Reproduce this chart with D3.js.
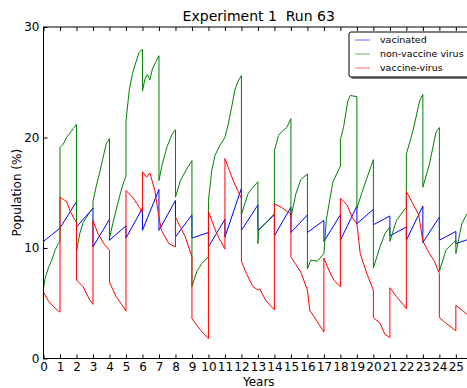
<html>
<head>
  <script src="https://d3js.org/d3.v7.min.js"></script>
  <style>
    body { margin: 0; background: #fff; }
    svg text { font-family: 'DejaVu Sans', sans-serif; fill: #000; }
    .axis .domain { stroke: none; }
    .axis text { font-size: 12px; }
    .axis line { stroke: #000; }
  </style>
</head>
<body>
<svg id="chart" width="467" height="388"></svg>
<script>
// [year, percent]; jumps happen at whole years
const vaccinated = [
  [0,10.6],[0.5,11.2],[1,11.8],[1.5,13.0],[2,14.2],[2,11.9],[3,13.6],[3,10.1],[4,12.6],[4,10.7],
  [5,12.0],[5,10.9],[6,13.6],[6,11.6],[7,15.3],[7,11.6],[8,14.3],[8,11.0],[9,13.0],[9,10.9],
  [10,11.4],[10,10.1],[11,12.6],[11,11.0],[12,15.4],[12,11.6],[13,13.9],[13,11.6],[14,13.0],[14,11.1],
  [15,13.7],[15,11.4],[16,13.0],[16,11.4],[17,12.5],[17,10.6],[18,13.0],[18,10.7],[19,13.8],[19,12.2],
  [20,13.5],[20,12.1],[21,12.9],[21,11.1],[22,11.9],[22,10.7],[23,13.8],[23,10.5],[24,12.8],[24,10.7],
  [25,11.5],[25,10.4],[26,10.9]
];

const nonVaccineVirus = [
  [0,6.3],[0.1,7.3],[0.3,8.2],[0.5,8.9],[0.7,9.8],[0.9,10.4],[1,10.6],[1,19.1],[1.2,19.4],[1.4,20.0],
  [1.6,20.4],[1.8,20.8],[2,21.2],[2,9.7],[2.2,11.3],[2.4,12.3],[2.7,13.0],[3,13.6],[3,14.2],[3.2,15.6],
  [3.4,16.8],[3.6,18.1],[3.8,19.4],[4,19.9],[4,10.9],[4.2,12.2],[4.4,13.4],[4.6,14.6],[4.8,15.7],[5,16.5],
  [5,21.5],[5.2,24.3],[5.4,25.8],[5.6,26.8],[5.8,27.7],[6,28.0],[6,24.2],[6.15,25.3],[6.3,25.7],[6.45,25.2],
  [6.6,26.2],[6.8,26.8],[7,27.4],[7,16.1],[7.2,17.6],[7.5,19.2],[7.8,20.3],[8,20.7],[8,14.6],[8.3,16.1],
  [8.7,17.2],[9,17.9],[9,6.5],[9.3,7.9],[9.6,8.6],[10,9.2],[10,14.3],[10.2,17.0],[10.4,18.4],[10.7,19.3],
  [11,20.0],[11.2,21.2],[11.4,22.7],[11.6,24.3],[11.8,25.1],[12,25.6],[12,13.0],[12.2,14.0],[12.4,14.9],[12.7,15.5],
  [13,16.0],[13,10.4],[13.05,11.6],[13.5,12.3],[14,13.1],[14,18.8],[14.25,20.2],[14.5,20.6],[14.75,20.9],[15,21.7],
  [15,12.8],[15.3,14.9],[15.6,16.2],[16,16.7],[16,8.1],[16.2,8.9],[16.6,8.8],[17,9.5],[17.15,12.6],[17.55,16.0],
  [18,17.4],[18,19.8],[18.2,21.0],[18.45,23.3],[18.6,23.8],[19,23.7],[19,13.6],[19.3,15.0],[19.6,16.3],[20,18.0],
  [20,8.2],[20.4,10.1],[20.7,11.3],[21,11.9],[21,10.6],[21.4,12.5],[21.8,13.3],[22,13.7],[22,18.5],[22.4,20.6],
  [22.8,23.3],[23,23.9],[23,15.5],[23.4,17.6],[23.8,20.5],[24,20.9],[24,7.9],[24.4,9.8],[25,10.7],[25,9.5],
  [25.36,12.2],[25.68,13.1],[26,14.0]
];

const vaccineVirus = [
  [0,6.0],[0.3,5.2],[0.6,4.7],[0.9,4.3],[1,4.2],[1,14.6],[1.2,14.4],[1.4,14.2],[1.6,13.4],[1.8,12.8],
  [2,12.3],[2,7.1],[2.4,6.5],[2.8,5.3],[3,4.9],[3,12.5],[3.3,11.3],[3.7,10.3],[4,9.8],[4,6.9],
  [4.4,5.6],[4.7,5.0],[5,4.3],[5,15.2],[5.4,14.6],[5.8,13.7],[6,13.2],[6,16.9],[6.25,16.4],[6.45,16.8],
  [6.75,15.2],[7,12.8],[7.15,11.6],[7.6,10.4],[8,10.1],[8,12.8],[8.3,11.9],[8.6,11.0],[9,9.2],[9,3.6],
  [9.5,2.6],[10,1.8],[10,13.3],[10.2,12.5],[10.5,11.3],[11,9.9],[11,18.1],[11.2,17.3],[11.5,16.1],[11.9,14.8],
  [12,14.5],[12,8.8],[12.3,7.7],[12.7,6.5],[13,6.2],[13.1,6.3],[13.5,5.2],[14,4.4],[14,14.0],[14.4,13.7],
  [14.8,13.3],[15,13.1],[15,9.2],[15.3,8.5],[15.6,7.8],[16,6.2],[16.15,4.3],[16.4,3.8],[16.7,3.1],[17,2.4],
  [17,9.1],[17.3,8.0],[17.6,7.1],[18,6.5],[18,14.5],[18.4,13.9],[18.7,12.8],[19,12.2],[19.2,9.5],[19.6,7.7],
  [20,6.2],[20,3.7],[20.4,3.2],[20.7,2.2],[21,1.9],[21,6.4],[21.4,5.6],[21.8,4.9],[22,4.5],[22,15.1],
  [22.4,14.0],[22.75,13.0],[23,10.6],[23.4,9.5],[23.7,8.8],[24,7.7],[24,3.7],[24.4,3.2],[25,2.5],[25,4.8],
  [25.36,4.4],[25.68,4.0],[26,3.8]
];

const seriesNames = ["vacinated", "non-vaccine virus", "vaccine-virus"];
const seriesColors = ["#0000ff", "#008000", "#ff0000"];
const xTickMarks = d3.range(0, 27);
const xTickLabels = d3.range(0, 26);
const yTicks = [0, 10, 20, 30];

const svg = d3.select("svg#chart");
const plotLeft = 43.5, plotRight = 474, plotTop = 27, plotBottom = 358.5;

const xScale = d3.scaleLinear().domain([0, 26.1]).range([plotLeft, plotRight]);
const yScale = d3.scaleLinear().domain([0, 30]).range([plotBottom, plotTop]);

svg.append("defs").append("clipPath").attr("id", "plotClip")
  .append("rect").attr("x", plotLeft).attr("y", plotTop)
  .attr("width", plotRight - plotLeft).attr("height", plotBottom - plotTop);

// lines
const line = d3.line().x(d => xScale(d[0])).y(d => yScale(d[1]));
const plot = svg.append("g").attr("clip-path", "url(#plotClip)");
[vaccinated, nonVaccineVirus, vaccineVirus].forEach((s, i) => {
  plot.append("path")
    .datum(s)
    .attr("d", line)
    .attr("fill", "none")
    .attr("stroke", seriesColors[i])
    .attr("stroke-width", 1);
});

// axes, ticks pointing inward like old matplotlib
svg.append("g").attr("class", "axis")
  .attr("transform", "translate(0," + plotBottom + ")")
  .call(d3.axisBottom(xScale).tickValues(xTickMarks).tickSize(-4).tickFormat(""));
svg.append("g").attr("class", "axis")
  .attr("transform", "translate(0," + plotBottom + ")")
  .call(d3.axisBottom(xScale).tickValues(xTickLabels).tickSize(0).tickPadding(4).tickFormat(d3.format("d")));
svg.append("g").attr("class", "axis")
  .attr("transform", "translate(0," + plotTop + ")")
  .call(d3.axisTop(xScale).tickValues(xTickMarks).tickSize(-4).tickFormat(""));
svg.append("g").attr("class", "axis")
  .attr("transform", "translate(" + plotLeft + ",0)")
  .call(d3.axisLeft(yScale).tickValues(yTicks).tickSize(-4).tickPadding(4).tickFormat(d3.format("d")));

// frame
svg.append("rect")
  .attr("x", plotLeft).attr("y", plotTop)
  .attr("width", plotRight - plotLeft).attr("height", plotBottom - plotTop)
  .attr("fill", "none").attr("stroke", "#000").attr("stroke-width", 1);

// labels
svg.append("text")
  .attr("x", (plotLeft + plotRight) / 2).attr("y", 21)
  .attr("text-anchor", "middle")
  .style("font-size", "14px").style("white-space", "pre")
  .text("Experiment 1  Run 63");

svg.append("text")
  .attr("x", (plotLeft + plotRight) / 2).attr("y", 386)
  .attr("text-anchor", "middle")
  .style("font-size", "12px")
  .text("Years");

svg.append("text")
  .attr("transform", "translate(21," + ((plotTop + plotBottom) / 2) + ") rotate(-90)")
  .attr("text-anchor", "middle")
  .style("font-size", "12px")
  .text("Population (%)");

// legend
const legend = svg.append("g").attr("transform", "translate(349,32)");
legend.append("rect")
  .attr("x", 2).attr("y", 2).attr("width", 130).attr("height", 45)
  .attr("rx", 2).attr("fill", "#808080");
legend.append("rect")
  .attr("x", 0).attr("y", 0).attr("width", 130).attr("height", 45)
  .attr("rx", 2).attr("fill", "#fff").attr("stroke", "#000").attr("stroke-width", 1);

const items = legend.selectAll("g.item")
  .data(seriesNames)
  .enter().append("g")
  .attr("class", "item")
  .attr("transform", (d, i) => "translate(0," + (8 + i * 14) + ")");
items.append("line")
  .attr("x1", 6).attr("x2", 21)
  .attr("stroke", (d, i) => seriesColors[i])
  .attr("stroke-opacity", 0.6);
items.append("text")
  .attr("x", 31).attr("dy", "0.35em")
  .style("font-size", "9.5px")
  .text(d => d);
</script>
</body>
</html>
